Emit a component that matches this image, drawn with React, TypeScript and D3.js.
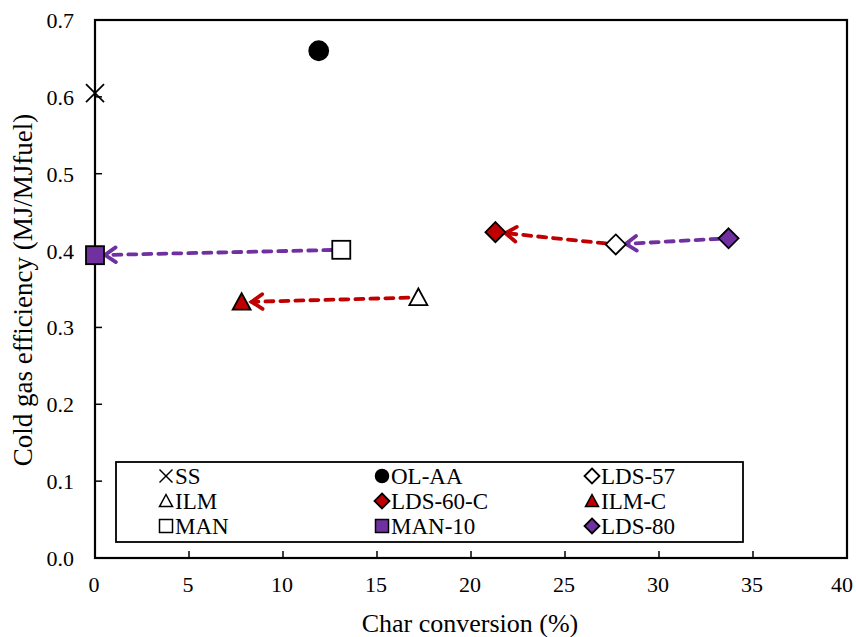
import React from "react";
import * as d3 from "d3";

const names = ["SS", "OL-AA", "LDS-57", "ILM", "LDS-60-C", "ILM-C", "MAN", "MAN-10", "LDS-80"];
const xVals = [0, 11.9, 27.7, 17.2, 21.3, 7.8, 13.1, 0, 33.7];
const yVals = [0.605, 0.66, 0.408, 0.339, 0.424, 0.333, 0.401, 0.394, 0.416];
const shapes = ["x", "circle", "diamond", "triangle", "diamond", "triangle", "square", "square", "diamond"];
const fills = ["none", "#000000", "#ffffff", "#ffffff", "#C00000", "#C00000", "#ffffff", "#7030A0", "#7030A0"];
const arrowFrom = ["MAN", "ILM", "LDS-57", "LDS-80"];
const arrowTo = ["MAN-10", "ILM-C", "LDS-60-C", "LDS-57"];
const arrowColor = ["#7030A0", "#C00000", "#C00000", "#7030A0"];
const xTicks = [0, 5, 10, 15, 20, 25, 30, 35, 40];
const yTicks = [0, 0.1, 0.2, 0.3, 0.4, 0.5, 0.6, 0.7];

const W = 856, H = 637;
const L = 95, R = 847, T = 20, B = 558;
const x = d3.scaleLinear().domain([0, 40]).range([L, R]);
const y = d3.scaleLinear().domain([0, 0.7]).range([B, T]);
const FONT = "Liberation Serif";

function Marker({ shape, fill, cx, cy, s }: { shape: string; fill: string; cx: number; cy: number; s: number }) {
  const sw = s > 13 ? 1.8 : 1.5;
  if (shape === "x") {
    const h = s / 2;
    return (
      <g stroke="#000" strokeWidth={sw}>
        <line x1={cx - h} y1={cy - h} x2={cx + h} y2={cy + h} />
        <line x1={cx - h} y1={cy + h} x2={cx + h} y2={cy - h} />
      </g>
    );
  }
  if (shape === "circle") return <circle cx={cx} cy={cy} r={s / 2} fill={fill} stroke="#000" strokeWidth={sw} />;
  if (shape === "square")
    return <rect x={cx - s / 2} y={cy - s / 2} width={s} height={s} fill={fill} stroke="#000" strokeWidth={sw} />;
  if (shape === "diamond") {
    const h = s / 2;
    return (
      <path d={`M${cx},${cy - h}L${cx + h},${cy}L${cx},${cy + h}L${cx - h},${cy}Z`} fill={fill} stroke="#000" strokeWidth={sw} strokeLinejoin="miter" />
    );
  }
  const h = s / 2;
  return (
    <path d={`M${cx},${cy - h}L${cx + h},${cy + h * 0.85}L${cx - h},${cy + h * 0.85}Z`} fill={fill} stroke="#000" strokeWidth={sw} />
  );
}

export default function App() {
  const idx = (n: string) => names.indexOf(n);
  const arrows = arrowFrom.map((f, i) => {
    const a = idx(f), b = idx(arrowTo[i]);
    const x1 = x(xVals[a]), y1 = y(yVals[a]), x2 = x(xVals[b]), y2 = y(yVals[b]);
    const ang = Math.atan2(y2 - y1, x2 - x1);
    const ux = Math.cos(ang), uy = Math.sin(ang);
    const sx = x1 + ux * 10, sy = y1 + uy * 10;
    const ex = x2 - ux * 10, ey = y2 - uy * 10;
    const hl = 13, ha = 0.6;
    const p1x = ex - hl * Math.cos(ang - ha), p1y = ey - hl * Math.sin(ang - ha);
    const p2x = ex - hl * Math.cos(ang + ha), p2y = ey - hl * Math.sin(ang + ha);
    return (
      <g key={i} stroke={arrowColor[i]} strokeWidth={3.8} fill="none" strokeLinecap="round">
        <line x1={sx} y1={sy} x2={ex} y2={ey} strokeDasharray="8 7" />
        <path d={`M${p1x},${p1y}L${ex},${ey}L${p2x},${p2y}`} />
      </g>
    );
  });

  const legRows = [476, 501, 526];
  const legCols = [[166, 175], [382, 391], [592, 601]];

  return (
    <svg width={W} height={H} style={{ position: "absolute", left: 0, top: 0 }} fontFamily={FONT}>
      <rect x={0} y={0} width={W} height={H} fill="#fff" />
      {xTicks.map((t, i) => {
        const last = i === xTicks.length - 1;
        return (
          <g key={"x" + t}>
            <line x1={x(t)} x2={x(t)} y1={B} y2={B - 7} stroke="#000" strokeWidth={1.5} />
            <text x={last ? 853 : x(t) - 1} y={592} fontSize={22} textAnchor={last ? "end" : "middle"} fontFamily={FONT}>{t}</text>
          </g>
        );
      })}
      {yTicks.map((t) => (
        <g key={"y" + t}>
          <line x1={L} x2={L + 7} y1={y(t)} y2={y(t)} stroke="#000" strokeWidth={1.5} />
          <text x={74} y={y(t) + 8} fontSize={22} textAnchor="end" fontFamily={FONT}>{t.toFixed(1)}</text>
        </g>
      ))}
      <rect x={L} y={T} width={R - L} height={B - T} fill="none" stroke="#000" strokeWidth={2.2} />
      <text x={470} y={632} fontSize={26} textAnchor="middle" fontFamily={FONT}>Char conversion (%)</text>
      <text transform={`translate(32,290) rotate(-90)`} fontSize={27} textAnchor="middle" fontFamily={FONT}>
        Cold gas efficiency (MJ/MJfuel)
      </text>
      {arrows}
      {names.map((n, i) => (
        <Marker key={n} shape={shapes[i]} fill={fills[i]} cx={x(xVals[i])} cy={y(yVals[i])} s={shapes[i] === "circle" ? 19 : shapes[i] === "diamond" ? 20 : 18} />
      ))}
      <rect x={116} y={462} width={627} height={80} fill="#fff" stroke="#000" strokeWidth={1.8} />
      {names.map((n, i) => {
        const r = Math.floor(i / 3), c = i % 3;
        const cy = legRows[r];
        return (
          <g key={"l" + n}>
            <Marker shape={shapes[i]} fill={fills[i]} cx={legCols[c][0]} cy={cy} s={shapes[i] === "diamond" ? 15 : 13} />
            <text x={legCols[c][1]} y={cy + 8} fontSize={23} fontFamily={FONT}>{n}</text>
          </g>
        );
      })}
    </svg>
  );
}
